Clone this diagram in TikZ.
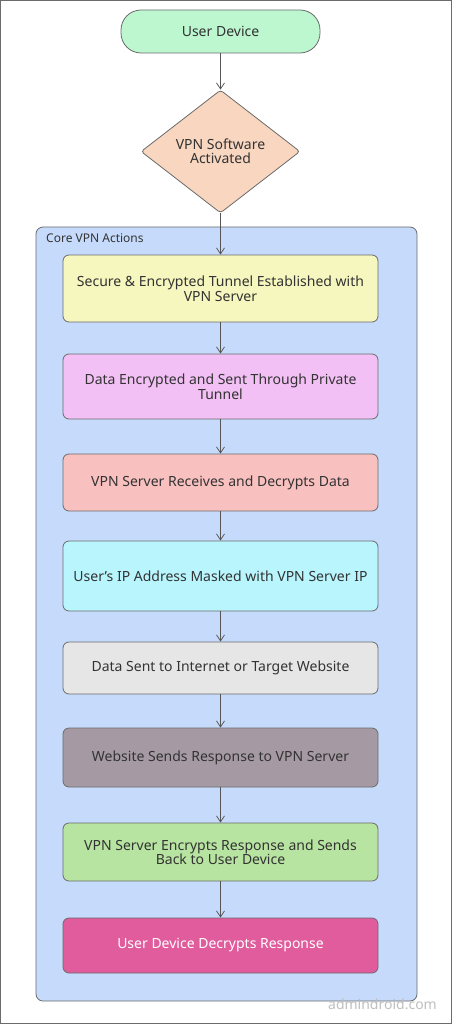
\documentclass[tikz,border=0pt]{standalone}
\usepackage{fontspec}
\setmainfont{Noto Sans}
\usetikzlibrary{shapes.geometric,arrows.meta}
\definecolor{lineC}{HTML}{555555}
\definecolor{borderC}{HTML}{6B6B6B}
\definecolor{cGreen}{HTML}{BCF7D0}
\definecolor{cPeach}{HTML}{F8D6BF}
\definecolor{cCont}{HTML}{C6DBFB}
\definecolor{cYellow}{HTML}{F6F6BF}
\definecolor{cPink}{HTML}{F2C0F4}
\definecolor{cSalmon}{HTML}{F8C0BF}
\definecolor{cCyan}{HTML}{B8F5FD}
\definecolor{cGray}{HTML}{E6E6E6}
\definecolor{cMauve}{HTML}{A59AA3}
\definecolor{cLgreen}{HTML}{B8E4A1}
\definecolor{cMagenta}{HTML}{E05C9D}
\definecolor{txtC}{HTML}{333333}
\tikzset{
  stepbox/.style={draw=borderC, line width=0.8pt, rounded corners=6pt, minimum width=315pt,
    align=center, font=\fontsize{14}{14.5}\selectfont, text=txtC, inner sep=0pt},
  conn/.style={draw=lineC, line width=0.8pt, -{Straight Barb[length=6pt,width=8pt]}}
}
\begin{document}
\begin{tikzpicture}[x=1pt,y=-1pt]
\useasboundingbox (0,0) rectangle (452,1024);
\draw[draw=borderC, line width=1.2pt, fill=white] (0.6,0.6) rectangle (451.4,1023.4);
% container
\node[draw=borderC, line width=0.8pt, fill=cCont, rounded corners=7pt, minimum width=381pt, minimum height=774pt, inner sep=0pt] (cont) at (226.5,614) {};
\node[anchor=west, font=\fontsize{12}{13}\selectfont, text=txtC, inner sep=0pt] (contlabel) at (46,238.5) {Core VPN Actions};
% top nodes
\node[draw=borderC, line width=0.8pt, fill=cGreen, rounded corners=20pt, minimum width=199pt, minimum height=43pt, font=\fontsize{14}{16}\selectfont, text=txtC] (dev) at (220.5,31.5) {User Device};
\node[draw=borderC, line width=0.8pt, fill=cPeach, diamond, aspect=1.29, minimum width=159pt, minimum height=123pt, inner sep=0pt, rounded corners=3pt, align=center, font=\fontsize{14}{14}\selectfont, text=txtC] (vpn) at (220.5,151.5) {VPN Software\\Activated};
% steps
\node[stepbox, fill=cYellow, minimum height=67pt] (s1) at (220.5,288.5) {Secure \& Encrypted Tunnel Established with\\VPN Server};
\node[stepbox, fill=cPink, minimum height=65pt] (s2) at (220.5,386.5) {Data Encrypted and Sent Through Private\\Tunnel};
\node[stepbox, fill=cSalmon, minimum height=57pt] (s3) at (220.5,482.5) {VPN Server Receives and Decrypts Data};
\node[stepbox, fill=cCyan, minimum height=70pt] (s4) at (220.5,576) {User’s IP Address Masked with VPN Server IP};
\node[stepbox, fill=cGray, minimum height=52pt] (s5) at (220.5,668) {Data Sent to Internet or Target Website};
\node[stepbox, fill=cMauve, minimum height=59pt] (s6) at (220.5,757.5) {Website Sends Response to VPN Server};
\node[stepbox, fill=cLgreen, minimum height=58pt] (s7) at (220.5,852) {VPN Server Encrypts Response and Sends\\Back to User Device};
\node[stepbox, fill=cMagenta, minimum height=55pt, text=white] (s8) at (220.5,945.5) {User Device Decrypts Response};
% connectors
\draw[conn] (dev) -- (vpn);
\draw[conn] (vpn) -- (s1);
\draw[conn] (s1) -- (s2);
\draw[conn] (s2) -- (s3);
\draw[conn] (s3) -- (s4);
\draw[conn] (s4) -- (s5);
\draw[conn] (s5) -- (s6);
\draw[conn] (s6) -- (s7);
\draw[conn] (s7) -- (s8);
% watermark
\node[anchor=east, font=\fontsize{14}{15}\selectfont, text=black!25, inner sep=0pt] (wm) at (437,1004) {admindroid.com};
\end{tikzpicture}
\end{document}
